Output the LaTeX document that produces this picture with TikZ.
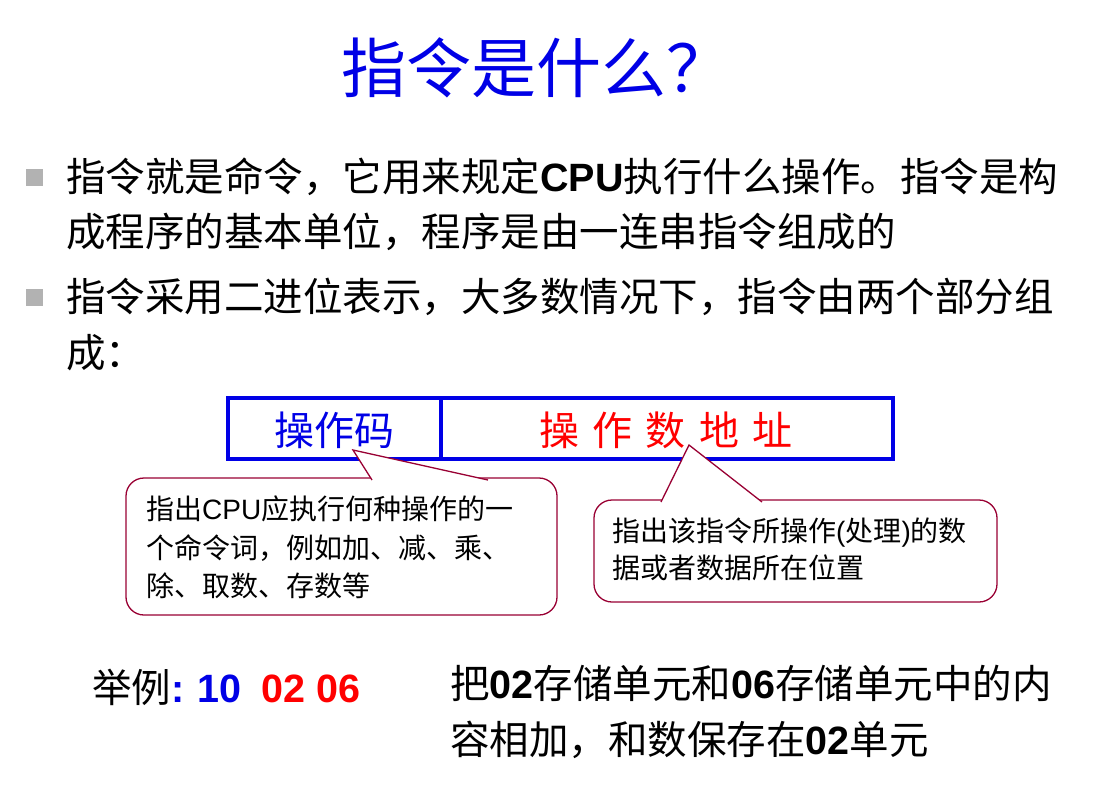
\documentclass[tikz,border=0pt]{standalone}
\usepackage{fontspec}
\newfontfamily\cjk{Noto Sans CJK SC}
\newfontfamily\arial{Liberation Sans}
\definecolor{tblue}{RGB}{0,0,230}
\definecolor{cred}{RGB}{153,0,51}
\begin{document}
\begin{tikzpicture}[x=1pt,y=-1pt,
  body/.style={anchor=base west,inner sep=0pt,font=\cjk\fontsize{39.5}{44}\selectfont},
  small/.style={anchor=base west,inner sep=0pt,font=\cjk\fontsize{28}{32}\selectfont},
  bul/.style={fill=gray!60,minimum size=17pt,inner sep=0pt},
  callout/.style={draw=cred,line width=1.3pt,fill=white,rounded corners=18pt},
  field/.style={draw=tblue,line width=4pt}]
\useasboundingbox (0,0) rectangle (1099,788);
\node[inner sep=0pt,text=tblue,font=\cjk\fontsize{65}{72}\selectfont] (title) at (536,68) {指令是什么？};
\node[bul] (b1) at (34,177) {};
\node[bul] (b2) at (34,297) {};
\node[body] (l1) at (66,191) {指令就是命令，它用来规定{\arial\bfseries CPU}执行什么操作。指令是构};
\node[body] (l2) at (66,246) {成程序的基本单位，程序是由一连串指令组成的};
\node[body] (l3) at (66,311) {指令采用二进位表示，大多数情况下，指令由两个部分组};
\node[body] (l4) at (66,367) {成：};
% field box
\draw[field] (228,398) rectangle (893,459);
\draw[field] (441,398) -- (441,459);
\node[inner sep=0pt,text=tblue,font=\cjk\fontsize{40}{44}\selectfont] (op) at (334,430) {操作码};
\node[inner sep=0pt,text=red,font=\cjk\fontsize{40}{44}\selectfont] (addr) at (666,430) {操\,\,作\,\,数\,\,地\,\,址};
% callout 1
\coordinate (t1) at (353,450);
\draw[callout] (126,478) rectangle (557,615);
\draw[cred,line width=1.3pt,fill=white,line join=miter] (372,480) -- (t1) -- (488,480);
\node[small] (c1a) at (146,519) {指出{\arial CPU}应执行何种操作的一};
\node[small] (c1b) at (146,558) {个命令词，例如加、减、乘、};
\node[small] (c1c) at (146,596) {除、取数、存数等};
% callout 2
\coordinate (t2) at (689,445);
\draw[callout] (594,500) rectangle (997,602);
\draw[cred,line width=1.3pt,fill=white] (661,502) -- (t2) -- (762,502);
\node[small] (c2a) at (612,541) {指出该指令所操作{\arial(}处理{\arial)}的数};
\node[small] (c2b) at (612,578) {据或者数据所在位置};
% example
\node[body] (ex) at (92,702) {举例{\arial\bfseries\color{tblue}:\,\,10\,\,\,\color{red}02 06}};
\node[body] (r1) at (450,698) {把{\arial\bfseries 02}存储单元和{\arial\bfseries 06}存储单元中的内};
\node[body] (r2) at (450,754) {容相加，和数保存在{\arial\bfseries 02}单元};
\end{tikzpicture}
\end{document}
